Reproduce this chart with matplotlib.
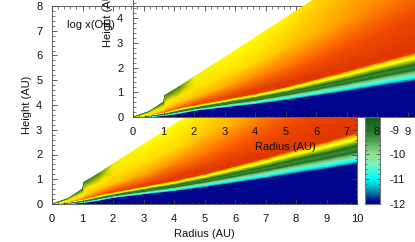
import numpy as np
import matplotlib
matplotlib.use("Agg")
import matplotlib.pyplot as plt
from matplotlib.colors import LinearSegmentedColormap
from matplotlib.ticker import MultipleLocator
from matplotlib.transforms import Affine2D

plt.rcParams['font.family'] = ['Liberation Sans', 'DejaVu Sans']

radius = [0, .5, 1, 1.05, 1.5, 2, 3, 4, 5, 6, 7, 8, 9, 10]

# layer surfaces: height (AU) of each layer per radius, with log x(OH) on it
h_midplane = [0]*14
h_blue   = [0, .02, .06, .065, .14, .26, .40, .53, .69, .87, 1.05, 1.25, 1.43, 1.63]
h_teal   = [0, .021, .062, .067, .145, .27, .41, .55, .71, .90, 1.08, 1.29, 1.47, 1.68]
h_cyan   = [0, .025, .07, .075, .16, .28, .43, .57, .75, .94, 1.13, 1.35, 1.54, 1.75]
h_pale   = [0, .03, .08, .09, .18, .30, .46, .61, .80, 1.00, 1.21, 1.44, 1.65, 1.88]
h_green  = [0, .04, .10, .11, .21, .33, .50, .67, .87, 1.09, 1.32, 1.56, 1.79, 2.03]
h_dark1  = [0, .05, .11, .12, .22, .34, .52, .69, .90, 1.13, 1.36, 1.61, 1.85, 2.10]
h_light  = [0, .055, .12, .13, .24, .36, .55, .73, .95, 1.19, 1.44, 1.71, 1.96, 2.23]
h_dark2  = [0, .06, .13, .14, .26, .38, .58, .77, 1.00, 1.26, 1.52, 1.81, 2.07, 2.37]
h_yellow = [0, .07, .16, .17, .30, .42, .64, .85, 1.10, 1.39, 1.68, 2.00, 2.29, 2.60]
h_yel2   = [0, .075, .18, .19, .33, .45, .67, .89, 1.15, 1.45, 1.75, 2.08, 2.38, 2.70]
h_red    = [0, .085, .21, .22, .37, .49, .72, .95, 1.22, 1.54, 1.86, 2.20, 2.52, 2.88]
h_deep   = [0, .09, .24, .26, .42, .58, .85, 1.10, 1.38, 1.70, 2.00, 2.30, 2.65, 3.00]
h_orange = [0, .12, .30, .35, .60, .80, 1.20, 1.60, 2.00, 2.40, 2.90, 3.40, 3.90, 4.40]
h_gold   = [0, .18, .45, .60, .85, 1.15, 1.70, 2.20, 2.80, 3.30, 3.90, 4.50, 5.00, 5.60]
h_top    = [0, .20, .60, .88, 1.21, 1.62, 2.40, 3.20, 4.00, 4.80, 5.60, 6.40, 7.20, 8.00]

v_midplane = [-12]*14
v_blue   = [-11.9]*14
v_teal   = [-11.5]*14
v_cyan   = [-11]*14
v_pale   = [-10.4]*14
v_green  = [-9.6]*14
v_dark1  = [-8.9]*14
v_light  = [-9.3]*14
v_dark2  = [-8.8]*14
v_yellow = [-8.0]*14
v_yel2   = [-8.0]*14
v_red    = [-8, -7, -6.4, -6.4, -6.2, -6.1, -6.0, -6.0, -6.0, -6.0, -6.0, -6.0, -6.0, -6.0]
v_deep   = [-8, -7.6, -7.0, -6.9, -6.7, -6.4, -6.2, -6.0, -5.9, -5.9, -5.9, -5.9, -5.9, -5.9]
v_orange = [-8, -7.9, -7.7, -7.6, -7.5, -7.4, -7.1, -6.8, -6.6, -6.4, -6.3, -6.2, -6.1, -6.1]
v_gold   = [-8, -8.1, -7.8, -7.8, -7.8, -7.7, -7.7, -7.6, -7.4, -7.2, -7.0, -6.8, -6.7, -6.6]
v_top    = [-8.8, -8.8, -8.6, -9.0, -8.5, -8.05, -7.95, -8.0, -7.9, -7.6, -7.4, -7.2, -7.0, -6.9]

heights = [h_midplane, h_blue, h_teal, h_cyan, h_pale, h_green, h_dark1, h_light, h_dark2,
           h_yellow, h_yel2, h_red, h_deep, h_orange, h_gold, h_top]
values = [v_midplane, v_blue, v_teal, v_cyan, v_pale, v_green, v_dark1, v_light, v_dark2,
          v_yellow, v_yel2, v_red, v_deep, v_orange, v_gold, v_top]

cbar_ticks = [-12, -11, -10, -9]
x_ticks = list(range(0, 11))
y_ticks = list(range(0, 9))

cmap = LinearSegmentedColormap.from_list("oh", [
    (0.0, "#00008b"), (0.02, "#000f90"), (0.0625, "#0090a8"), (0.125, "#00ffff"),
    (0.20, "#80f0c0"), (0.25, "#90e090"), (0.35, "#308030"), (0.425, "#106018"),
    (0.46, "#90a800"), (0.50, "#ffff00"), (0.55, "#ffd800"), (0.62, "#ffa000"),
    (0.70, "#ff5a00"), (0.76, "#e03800"), (1.0, "#b02000")])

W, H = 415, 242
FS = 8
fig = plt.figure(figsize=(W/100, H/100), dpi=100, facecolor="white")

X = np.tile(np.array(radius), (len(heights), 1))
Y = np.array(heights)
C = np.array(values)


def draw(ax):
    ax.pcolormesh(X, Y, C, shading="gouraud", cmap=cmap, vmin=-12, vmax=-4, rasterized=True)
    ax.set_xlim(0, 10)
    ax.set_ylim(0, 8)
    ax.set_xticks(x_ticks)
    ax.set_yticks(y_ticks)
    ax.xaxis.set_minor_locator(MultipleLocator(0.2))
    ax.yaxis.set_minor_locator(MultipleLocator(0.2))
    ax.tick_params(which="major", direction="in", top=True, right=True, length=3.5,
                   width=0.6, color="#444444", labelsize=FS, labelcolor="#111111")
    ax.tick_params(which="minor", direction="in", top=True, right=True, length=1.8,
                   width=0.5, color="#444444")
    ax.tick_params(axis="x", which="major", pad=7.5)
    ax.tick_params(axis="y", which="major", pad=7)
    ax.set_xlabel("Radius (AU)", fontsize=FS, labelpad=3.5, color="#111111")
    ax.set_ylabel("Height (AU)", fontsize=FS, labelpad=3, color="#111111")
    for s in ax.spines.values():
        s.set_linewidth(0.7)
        s.set_color("#666666")
    ax.set_axisbelow(False)


axw, axh = 305/W, 198/H
main = fig.add_axes([52/W, 1-204/H, axw, axh], zorder=1)
draw(main)
main.text(67, 25, "log x(OH)", fontsize=FS, color="#111111", va="center", ha="left",
          transform=Affine2D().scale(1, -1).translate(0, H))

cax = fig.add_axes([365/W, 1-204/H, 15/W, axh], zorder=2)
grad = np.linspace(-12, -4, 256).reshape(-1, 1)
cax.imshow(grad, origin="lower", aspect="auto", cmap=cmap, vmin=-12, vmax=-4, extent=[0, 1, -12, -4])
cax.set_xticks([])
cax.yaxis.tick_right()
cax.set_yticks(cbar_ticks)
cax.yaxis.set_minor_locator(MultipleLocator(0.2))
cax.tick_params(which="major", direction="in", left=True, right=True, length=3, width=0.6,
                color="#444444", labelsize=FS, pad=7, labelcolor="#111111")
cax.tick_params(which="minor", direction="in", left=True, right=True, length=1.5, width=0.5, color="#444444")
cax.set_yticklabels([str(t) for t in cbar_ticks])
for s in cax.spines.values():
    s.set_linewidth(0.8)
    s.set_color("#777777")

inset = fig.add_axes([133/W, 1-117/H, axw, axh], zorder=3)
inset.patch.set_alpha(0)
draw(inset)

fig.savefig("out.png", dpi=100)
